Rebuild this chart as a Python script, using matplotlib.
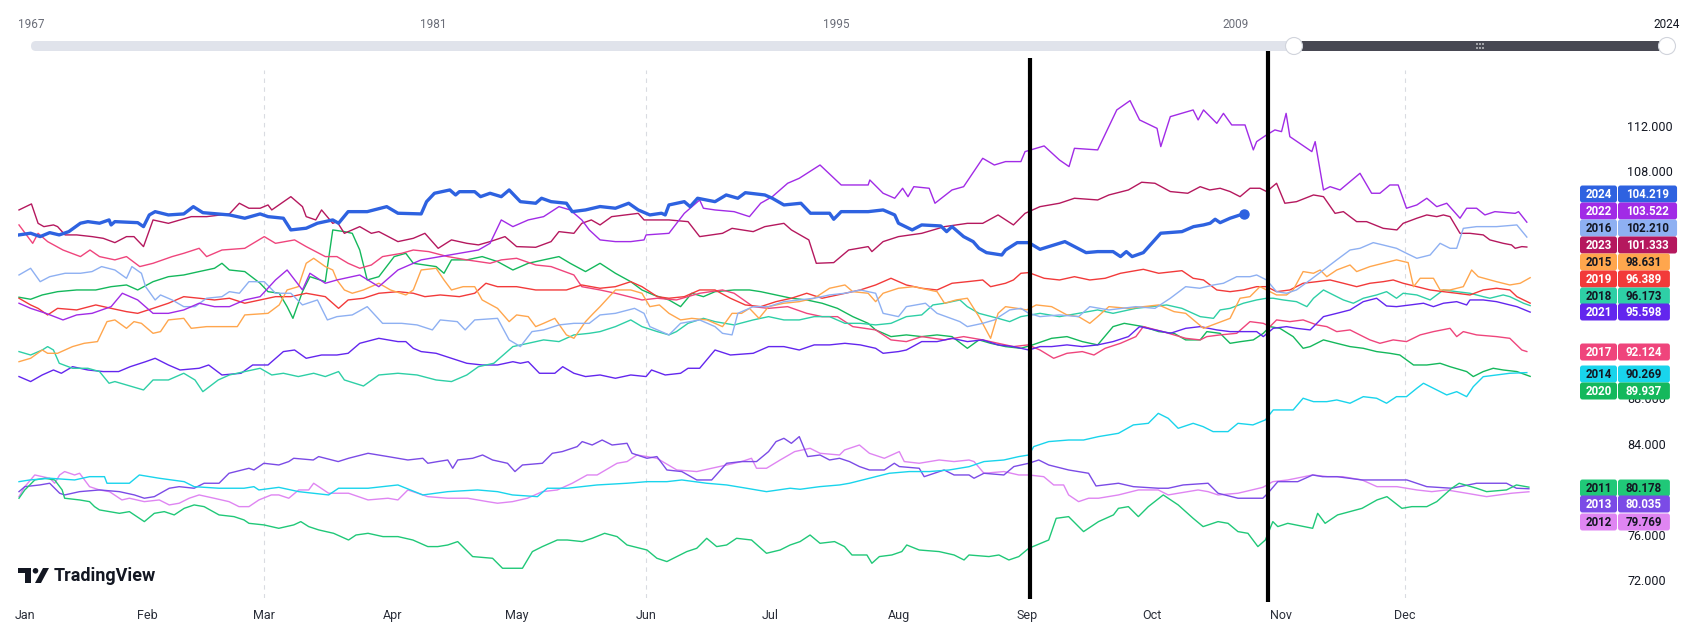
import matplotlib
matplotlib.use("Agg")
import matplotlib.pyplot as plt
from matplotlib.patches import FancyBboxPatch, Circle, Polygon, Rectangle

plt.rcParams['font.family'] = ['Roboto', 'DejaVu Sans']

# ---------------- data: (day of year, index value) ----------------
s2024 = [(0.0,102.40),(2.8,102.55),(5.1,102.25),(7.4,102.60),(9.7,102.40),(12.0,102.69),(14.8,103.43),(16.6,103.57),(19.4,103.43),(21.7,103.72),(22.2,103.28),(23.1,103.57),(28.6,103.48),(30.0,103.13),(31.4,104.16),(32.8,104.45),(36.0,104.16),(39.7,104.25),(42.0,104.89),(44.3,104.36),(50.7,104.16),(54.4,103.87),(58.1,104.25),(60.0,104.01),(63.7,103.87),(65.5,102.84),(69.2,102.99),(71.9,103.43),(75.6,103.72),(77.0,103.43),(79.3,104.45),(83.9,104.45),(88.6,104.89),(91.3,104.31),(96.9,104.25),(98.2,105.33),(100.1,106.07),(103.8,106.36),(105.2,105.92),(106.1,106.21),(109.8,106.21),(111.2,105.77),(113.5,106.07),(116.2,105.77),(118.1,106.36),(120.8,105.33),(124.5,105.19),(125.9,105.63),(128.2,105.33),(131.9,105.19),(133.3,104.45),(136.5,104.60),(140.0,104.90),(143.7,104.75),(146.9,105.19),(149.2,104.60),(152.0,104.16),(154.8,104.31),(155.7,104.16),(156.6,105.04),(160.3,105.33),(161.7,104.89),(163.5,105.63),(167.7,105.33),(170.4,105.92),(173.2,105.63),(175.0,106.12),(179.7,105.92),(181.5,105.63),(184.3,105.04),(188.4,105.19),(190.7,104.31),(195.3,104.31),(196.3,103.78),(198.1,104.45),(204.6,104.45),(208.2,104.60),(211.0,104.16),(211.9,103.43),(215.2,102.84),(217.5,103.28),(222.1,103.19),(223.5,102.69),(224.8,103.13),(227.6,102.25),(229.9,101.81),(231.3,101.22),(233.1,100.84),(236.8,100.63),(237.7,101.07),(240.5,101.72),(243.3,101.72),(246.0,101.13),(252.0,101.81),(257.1,100.84),(259.9,100.93),(263.6,100.93),(265.4,100.49),(266.8,100.93),(268.2,100.49),(270.9,100.84),(275.1,102.55),(280.2,102.69),(283.0,103.13),(285.4,103.28),(287.0,103.43),(288.2,103.78),(289.4,103.48),(291.8,103.87),(294.2,104.16),(295.2,104.219)]

s2022 = [(0.0,96.38),(2.8,95.93),(6.5,95.49),(10.6,94.91),(13.9,95.35),(17.6,95.49),(22.2,96.08),(24.9,97.26),(28.6,96.67),(32.3,95.49),(36.0,95.49),(39.7,95.79),(43.4,96.38),(47.1,96.08),(50.7,96.08),(54.4,96.67),(58.1,96.96),(61.8,98.43),(64.6,99.31),(68.3,97.55),(70.1,99.02),(73.8,98.14),(76.6,98.43),(82.1,98.87),(86.7,97.84),(91.3,99.31),(96.9,100.20),(101.5,100.49),(106.1,100.78),(110.7,101.07),(113.5,101.66),(116.2,103.72),(119.0,103.13),(122.7,103.72),(126.4,104.01),(130.1,104.89),(132.8,104.60),(135.6,103.72),(137.4,102.84),(140.0,101.96),(143.7,101.81),(147.4,101.81),(150.6,101.96),(151.1,102.40),(156.6,102.54),(160.3,104.30),(164.0,105.48),(164.9,104.75),(167.7,104.60),(172.3,104.45),(176.0,104.01),(178.7,105.19),(181.5,105.77),(185.2,106.95),(188.0,107.39),(193.0,108.56),(198.1,106.80),(204.6,106.80),(205.0,107.24),(208.2,106.07),(211.0,105.63),(212.9,106.51),(214.2,105.77),(215.6,106.65),(219.3,106.51),(220.7,105.19),(224.8,106.36),(227.6,106.65),(232.2,109.15),(235.0,108.56),(237.7,108.86),(241.4,108.86),(242.4,109.74),(247.0,110.24),(250.7,109.00),(253.0,108.42),(254.3,110.03),(259.9,109.89),(264.5,113.41),(267.7,114.23),(270.0,112.53),(274.2,111.79),(275.1,110.18),(277.4,112.82),(282.9,113.41),(284.1,112.53),(285.4,113.41),(288.6,112.23),(290.2,113.11),(292.2,112.09),(295.4,112.09),(297.4,109.89),(298.2,110.62),(300.6,111.21),(302.6,111.65),(304.2,111.50),(305.3,113.11),(306.2,111.06),(311.5,109.74),(312.3,110.62),(314.3,106.36),(315.9,106.65),(318.3,106.36),(323.1,107.83),(325.9,106.07),(327.9,106.07),(330.3,106.80),(332.3,106.80),(334.3,104.75),(336.8,105.04),(339.2,105.63),(341.6,104.89),(344.0,105.19),(347.2,103.87),(348.8,104.75),(351.2,104.75),(353.2,104.16),(355.6,104.45),(360.5,104.30),(361.3,104.45),(363.3,103.522)]

s2016 = [(0.0,98.87),(2.8,99.46),(5.1,98.28),(7.4,98.72),(11.1,99.02),(14.8,99.02),(17.6,99.17),(19.9,99.61),(23.1,99.31),(25.9,98.58),(27.2,99.61),(29.5,99.02),(30.5,97.84),(32.8,96.67),(34.1,97.11),(36.9,96.67),(39.7,96.08),(42.4,96.08),(45.2,96.82),(48.9,96.96),(50.7,97.40),(53.1,97.26),(55.4,98.28),(59.1,98.28),(61.8,97.26),(65.5,97.26),(68.3,96.23),(71.9,96.67),(74.3,94.91),(76.6,95.20),(80.3,95.35),(83.9,96.08),(87.6,94.61),(92.2,94.61),(95.9,94.47),(99.6,94.03),(101.5,94.91),(105.6,94.76),(107.5,94.03),(109.8,94.91),(115.3,95.05),(118.1,93.15),(120.8,92.56),(123.6,93.88),(126.4,94.03),(130.1,94.47),(133.7,94.61),(137.4,94.61),(140.0,95.35),(143.7,95.49),(148.3,95.93),(150.6,95.49),(152.0,94.32),(156.6,93.59),(159.4,94.61),(164.0,94.91),(167.7,94.32),(169.5,93.73),(171.8,93.59),(173.2,95.49),(176.9,96.08),(180.6,96.08),(184.3,96.52),(188.0,96.67),(191.6,96.82),(195.3,97.11),(199.0,97.26),(202.7,97.55),(206.4,97.26),(208.2,95.49),(211.9,95.20),(213.8,96.08),(218.4,96.38),(221.2,95.49),(226.7,94.76),(228.5,94.32),(232.2,94.61),(235.0,94.91),(238.7,95.79),(241.4,95.93),(243.3,95.49),(246.0,95.20),(250.7,95.35),(255.3,95.20),(258.0,96.08),(262.6,95.79),(269.1,96.08),(273.7,95.93),(277.4,96.82),(281.1,97.84),(284.5,97.70),(287.8,97.99),(290.2,98.14),(293.4,98.72),(296.6,98.72),(298.2,98.87),(300.6,98.43),(303.0,97.40),(305.4,97.26),(307.8,97.55),(311.1,98.43),(314.3,99.31),(317.5,100.20),(320.7,101.07),(323.1,101.22),(326.3,101.72),(328.7,101.51),(331.9,101.22),(334.3,100.78),(336.8,100.34),(340.0,100.63),(342.4,101.66),(344.8,101.22),(346.4,101.22),(348.0,102.98),(351.2,103.13),(356.0,103.13),(360.9,103.28),(363.3,102.210)]

s2023 = [(0.0,104.60),(3.0,105.13),(4.6,103.42),(6.0,103.13),(8.3,103.28),(9.3,103.13),(11.1,102.40),(13.9,102.40),(17.6,102.25),(20.3,102.10),(23.1,101.72),(25.9,102.25),(27.7,102.25),(30.0,101.37),(32.3,103.72),(36.0,103.42),(38.8,103.72),(41.5,104.01),(45.2,104.01),(50.7,104.25),(53.1,105.19),(55.4,104.75),(58.1,104.75),(60.0,105.04),(60.9,104.60),(65.5,105.77),(68.3,104.89),(69.2,104.01),(71.5,103.72),(72.9,104.60),(75.6,103.42),(76.6,103.57),(78.4,102.54),(82.1,103.13),(84.9,102.54),(86.7,102.69),(91.3,101.81),(95.0,102.10),(97.8,102.54),(101.0,101.22),(104.2,101.96),(107.9,101.66),(110.7,101.52),(113.5,101.81),(117.1,102.25),(119.9,101.37),(124.5,101.31),(128.2,101.81),(130.1,102.69),(133.7,102.54),(135.6,103.42),(137.9,103.72),(140.0,103.28),(142.8,104.01),(149.2,104.30),(150.6,103.72),(156.6,103.72),(161.2,103.57),(164.0,102.25),(169.5,102.54),(171.8,102.98),(176.9,102.69),(179.7,103.13),(184.3,103.42),(186.1,102.84),(190.3,101.96),(192.1,99.90),(196.3,99.96),(199.9,101.07),(204.6,101.37),(205.5,100.93),(208.2,101.81),(211.9,102.25),(217.5,102.54),(223.0,103.13),(228.5,103.42),(232.2,103.42),(235.9,104.16),(239.6,103.28),(242.4,104.30),(246.0,104.89),(250.7,105.19),(254.3,105.63),(259.9,105.48),(262.6,105.92),(267.3,106.36),(270.5,107.04),(273.7,106.95),(277.4,106.22),(281.6,106.07),(284.6,106.65),(286.9,106.36),(289.4,106.51),(291.8,106.22),(294.2,105.77),(296.6,106.51),(299.0,106.51),(300.6,106.22),(303.0,106.95),(305.0,105.19),(307.8,105.33),(311.9,105.92),(314.3,105.77),(317.1,104.30),(319.1,104.45),(322.3,103.57),(324.7,103.57),(328.7,102.98),(332.0,102.84),(333.5,103.42),(336.8,103.87),(339.2,104.16),(341.6,104.01),(343.2,104.16),(344.8,104.01),(347.2,102.54),(349.6,102.54),(352.8,102.40),(354.4,101.96),(356.0,101.81),(357.6,101.66),(359.6,101.52),(360.5,101.22),(362.1,101.37),(363.3,101.333)]

s2015 = [(0.0,91.23),(2.8,91.53),(5.6,92.26),(6.9,91.97),(9.3,91.97),(12.9,92.56),(15.7,92.85),(18.9,93.00),(21.2,94.76),(23.1,94.91),(25.9,94.17),(27.7,94.76),(29.5,94.61),(32.3,93.73),(34.1,93.88),(36.0,94.91),(39.7,95.05),(41.5,94.17),(45.2,94.32),(48.9,94.32),(52.6,94.32),(54.4,95.35),(60.0,95.49),(62.7,96.23),(64.6,97.55),(67.3,97.84),(69.2,99.90),(71.0,100.34),(73.8,99.61),(75.6,99.31),(76.6,98.43),(78.4,97.55),(80.3,97.26),(83.0,97.55),(86.7,98.14),(89.5,97.55),(93.2,97.11),(95.0,97.55),(96.9,99.31),(100.5,99.46),(102.4,98.43),(104.2,97.55),(107.0,97.84),(109.8,97.84),(111.6,96.67),(115.3,95.93),(118.1,94.76),(119.9,95.35),(122.7,95.20),(124.5,94.32),(126.4,94.61),(129.1,95.05),(131.9,93.59),(133.7,93.29),(136.5,94.76),(138.4,95.49),(140.0,96.08),(143.7,97.55),(147.4,97.55),(150.1,97.26),(152.0,96.08),(154.3,96.23),(156.6,95.49),(159.4,94.91),(162.1,95.05),(165.8,94.91),(169.5,94.32),(171.8,95.49),(174.1,95.49),(176.0,95.93),(178.3,95.05),(180.6,96.08),(184.3,96.38),(188.0,96.52),(191.6,96.82),(195.3,97.70),(199.0,97.99),(200.9,97.40),(204.6,97.26),(206.4,96.52),(208.2,97.26),(211.9,97.70),(215.6,97.84),(219.3,97.55),(221.2,97.40),(223.0,96.38),(225.8,96.67),(228.5,96.82),(231.3,95.20),(234.1,93.29),(235.9,95.49),(237.7,96.08),(240.5,95.93),(242.8,95.79),(245.1,96.23),(248.8,96.08),(252.5,95.35),(255.3,95.20),(258.0,94.61),(259.9,95.20),(262.6,96.08),(267.3,95.93),(270.9,96.08),(274.6,96.23),(278.3,95.64),(281.1,95.49),(285.4,94.17),(288.6,94.61),(291.8,95.05),(294.2,96.82),(296.6,96.96),(299.0,97.84),(300.6,97.55),(303.0,97.11),(305.4,97.11),(307.0,97.55),(309.4,99.17),(311.9,99.02),(313.5,99.31),(315.1,98.72),(317.5,99.31),(320.7,99.75),(322.3,99.17),(325.5,99.61),(328.7,99.90),(331.9,100.20),(334.7,99.96),(336.0,97.84),(337.6,98.58),(340.8,98.58),(342.4,97.55),(344.8,97.55),(348.0,97.84),(350.0,99.31),(351.6,98.72),(356.0,98.28),(359.2,97.99),(361.7,98.14),(364.1,98.631)]

s2019 = [(0.0,96.82),(2.8,96.23),(4.6,95.93),(6.9,95.35),(9.3,95.93),(13.9,95.79),(18.5,96.23),(22.2,95.93),(25.9,95.64),(28.6,95.49),(32.3,95.93),(36.0,96.38),(39.7,96.96),(43.4,96.82),(47.1,96.67),(50.7,96.82),(54.4,96.38),(58.1,96.67),(61.8,96.96),(65.5,96.96),(69.2,97.26),(73.8,96.96),(77.0,95.93),(79.3,96.67),(83.0,96.82),(86.7,97.26),(91.3,97.40),(95.0,97.26),(97.8,96.96),(101.5,97.11),(106.1,96.96),(109.8,97.26),(112.5,98.14),(115.3,97.84),(119.9,97.84),(124.5,97.55),(128.2,97.55),(131.9,97.55),(135.6,97.99),(140.0,97.70),(143.7,97.84),(147.4,98.28),(150.1,97.84),(153.8,96.96),(156.6,96.82),(160.3,96.96),(164.0,97.55),(167.7,97.55),(171.4,96.82),(175.0,96.23),(178.7,96.08),(182.4,96.52),(186.1,96.82),(189.8,97.26),(193.5,96.82),(197.2,97.11),(202.7,97.55),(206.4,97.99),(210.1,98.58),(213.8,97.99),(217.5,97.70),(221.2,97.55),(224.8,98.14),(228.5,98.28),(232.2,98.43),(234.1,97.84),(237.7,98.14),(239.6,98.43),(241.4,99.02),(243.3,99.08),(247.0,98.58),(250.7,98.43),(254.3,98.72),(258.0,98.43),(261.7,98.58),(265.4,99.02),(270.9,99.37),(274.6,99.02),(280.2,99.25),(282.9,98.58),(285.4,98.43),(288.6,97.55),(291.8,97.40),(295.0,97.55),(298.2,97.84),(300.6,97.84),(303.0,97.40),(306.2,97.55),(309.4,98.14),(312.7,98.28),(315.9,98.43),(319.1,98.14),(322.3,97.84),(325.5,98.14),(328.7,98.28),(331.1,98.43),(333.5,98.14),(336.8,97.84),(340.0,97.55),(343.2,97.40),(346.4,97.26),(349.6,97.11),(352.8,97.55),(356.0,97.70),(359.2,97.55),(360.9,96.96),(364.1,96.389)]

s2018 = [(0.0,92.12),(2.8,91.82),(5.6,92.26),(6.9,92.56),(8.3,92.26),(9.7,91.09),(12.9,90.65),(16.6,90.65),(19.4,90.36),(21.7,89.33),(23.1,89.48),(25.9,89.18),(30.0,88.74),(32.3,89.62),(36.0,89.62),(39.7,90.21),(42.4,89.62),(44.3,88.59),(48.0,89.62),(50.7,90.06),(54.4,90.36),(58.1,90.65),(60.9,90.06),(63.7,90.21),(67.3,89.92),(71.0,90.21),(73.8,89.92),(77.0,90.36),(78.4,89.62),(83.0,89.09),(86.7,90.06),(91.3,90.21),(95.9,90.06),(100.5,89.62),(104.2,89.48),(107.9,90.06),(110.7,90.79),(114.4,91.09),(119.0,92.56),(122.7,92.85),(126.4,93.15),(130.1,93.00),(133.7,93.59),(137.4,93.73),(140.0,93.88),(143.7,94.32),(147.4,94.91),(150.1,94.32),(153.8,93.88),(156.6,93.59),(158.4,93.88),(161.2,94.61),(164.9,95.05),(167.7,94.76),(172.3,94.47),(176.9,94.91),(180.6,95.20),(184.3,94.91),(188.0,94.91),(191.6,95.20),(195.3,95.20),(199.0,94.61),(202.7,94.61),(206.4,94.47),(210.1,94.61),(213.8,95.20),(217.5,95.35),(220.2,96.23),(223.0,96.38),(226.7,96.67),(228.5,96.08),(231.3,95.49),(235.9,95.05),(238.7,94.76),(241.4,95.20),(246.0,95.49),(250.7,95.20),(255.3,95.49),(259.9,95.79),(263.6,95.49),(269.1,95.93),(272.8,96.08),(276.5,96.23),(280.2,95.93),(284.6,95.20),(287.8,95.05),(289.4,95.79),(291.8,95.93),(295.0,96.38),(298.2,96.67),(300.6,96.82),(302.2,96.82),(304.6,96.67),(307.8,96.52),(310.3,96.08),(311.9,96.82),(314.3,97.55),(316.7,97.11),(319.1,96.67),(321.5,96.38),(323.9,96.82),(327.1,97.11),(329.5,97.40),(331.9,96.82),(333.5,97.26),(336.8,97.11),(340.0,96.67),(343.2,97.55),(346.4,97.40),(349.6,97.26),(352.8,96.96),(354.4,96.82),(357.6,97.11),(359.2,96.96),(362.5,96.38),(364.1,96.173)]

s2021 = [(0.0,89.92),(2.8,89.48),(5.6,90.06),(8.3,90.50),(10.2,90.21),(12.9,90.79),(16.6,90.50),(20.3,90.36),(24.0,90.36),(26.8,90.79),(30.5,91.23),(32.8,91.53),(36.0,90.94),(38.8,90.50),(43.4,90.65),(45.7,90.94),(48.9,90.06),(53.5,90.21),(56.3,90.94),(60.0,90.94),(63.7,92.12),(66.4,92.26),(69.2,91.53),(72.9,91.82),(76.6,91.82),(79.3,91.97),(82.1,92.85),(86.7,93.29),(91.3,93.00),(93.2,93.00),(95.0,92.41),(96.9,92.12),(100.5,91.97),(104.2,91.53),(107.9,91.09),(111.6,90.94),(115.3,90.94),(119.0,91.23),(120.8,91.09),(122.7,91.23),(125.4,90.21),(129.1,90.21),(131.0,90.79),(133.7,90.21),(136.5,89.92),(140.0,90.06),(143.7,89.77),(147.4,90.06),(151.1,89.92),(152.4,90.50),(155.7,90.06),(159.4,90.21),(161.2,90.65),(164.0,90.65),(167.7,92.26),(171.4,91.82),(176.9,91.97),(180.6,92.56),(184.3,92.56),(188.0,92.26),(191.6,92.71),(195.3,92.71),(199.0,92.85),(202.7,92.71),(206.4,92.41),(208.2,91.97),(211.9,92.12),(213.8,92.26),(217.5,93.00),(221.2,93.00),(224.8,93.29),(228.5,93.00),(232.2,93.15),(235.9,92.71),(239.6,92.56),(243.3,92.26),(246.0,92.56),(248.8,92.56),(252.5,92.71),(256.2,92.56),(259.9,92.71),(263.6,93.00),(267.3,93.44),(270.0,94.32),(273.7,94.03),(277.4,93.73),(281.1,94.17),(284.6,94.32),(288.6,94.03),(291.8,93.88),(294.2,93.88),(298.2,93.88),(299.8,93.44),(302.2,94.17),(305.4,94.32),(307.8,94.17),(311.1,94.03),(312.7,94.61),(314.3,95.20),(317.5,95.49),(320.7,95.79),(323.9,96.52),(327.1,96.82),(329.5,96.14),(331.9,96.08),(335.2,96.23),(338.4,96.38),(340.8,96.08),(343.2,96.38),(346.4,96.52),(348.8,96.23),(349.6,96.67),(352.8,96.67),(356.0,96.52),(359.2,96.23),(360.9,96.08),(364.1,95.598)]

s2017 = [(0.0,103.28),(3.3,101.66),(4.6,102.54),(6.9,101.81),(10.6,101.07),(14.8,100.49),(17.1,101.07),(19.4,100.49),(23.1,100.20),(25.9,100.49),(29.1,99.61),(32.3,99.90),(36.9,100.49),(39.7,100.78),(43.4,101.22),(45.2,100.49),(48.9,101.07),(54.4,101.22),(59.1,102.25),(61.8,101.66),(66.4,101.96),(69.2,101.37),(73.8,100.49),(76.6,100.49),(79.3,99.90),(82.1,99.46),(84.9,99.75),(87.6,100.49),(92.2,100.78),(95.0,101.07),(98.7,100.93),(103.3,100.49),(107.9,100.20),(113.5,99.90),(116.2,100.20),(119.9,100.34),(124.5,99.75),(128.2,99.61),(133.7,98.87),(135.6,97.84),(140.0,97.55),(143.7,97.26),(150.1,96.67),(153.8,96.82),(158.4,96.67),(164.0,97.26),(169.5,97.55),(172.3,97.26),(176.9,96.08),(180.6,95.93),(185.2,96.08),(189.8,95.49),(193.5,95.20),(197.2,95.20),(200.9,94.32),(206.4,94.03),(210.1,93.15),(213.8,93.00),(217.5,93.44),(223.0,93.15),(227.6,93.44),(232.2,93.15),(235.9,92.85),(239.6,92.56),(243.1,92.71),(246.0,92.26),(249.3,91.53),(252.5,91.97),(256.2,92.12),(259.0,91.82),(261.7,92.41),(265.4,92.85),(269.1,93.44),(270.9,94.32),(275.6,93.88),(281.1,93.29),(284.6,93.15),(286.2,93.44),(289.4,93.59),(293.4,93.73),(296.6,94.76),(299.8,94.61),(301.4,94.32),(303.0,94.91),(306.2,94.76),(309.4,94.91),(312.7,94.47),(315.1,94.32),(317.5,93.88),(320.7,94.03),(323.9,93.44),(325.5,93.15),(327.9,92.85),(331.1,93.15),(334.3,93.00),(337.6,93.59),(340.8,93.88),(344.8,94.17),(346.4,93.44),(348.0,93.88),(351.2,93.59),(356.0,93.44),(359.2,93.29),(362.1,92.26),(363.3,92.124)]

s2014 = [(0.0,80.66),(2.6,80.81),(7.4,80.96),(13.4,80.81),(17.0,81.10),(20.6,81.10),(21.2,80.52),(26.6,80.52),(29.0,81.25),(33.8,80.96),(39.8,80.66),(42.2,80.22),(48.2,80.08),(54.2,80.08),(56.6,80.22),(57.8,79.93),(62.6,80.16),(67.4,79.78),(74.6,79.49),(77.0,80.08),(84.1,80.08),(91.3,80.37),(97.3,79.49),(103.3,79.78),(110.5,79.93),(115.3,79.78),(118.9,79.49),(124.9,79.34),(127.3,80.08),(132.1,80.08),(139.3,80.37),(146.5,80.52),(151.3,80.66),(156.1,80.66),(159.7,80.81),(165.7,80.52),(170.5,80.37),(175.3,80.08),(180.1,79.78),(185.8,80.08),(188.2,79.99),(192.9,80.22),(197.7,80.37),(200.1,80.52),(204.9,80.96),(209.7,81.40),(214.5,81.55),(219.3,81.55),(224.1,81.69),(228.9,81.98),(232.5,82.43),(237.3,82.57),(240.9,82.87),(243.3,83.01),(244.5,83.75),(248.1,84.19),(252.9,84.33),(256.5,84.33),(260.1,84.63),(264.9,84.92),(268.5,85.66),(272.1,85.80),(274.5,86.68),(276.9,86.24),(279.3,85.36),(282.9,85.80),(285.3,85.51),(287.7,85.07),(291.3,85.07),(293.7,85.80),(297.3,85.66),(300.3,86.10),(302.2,86.98),(307.0,86.98),(309.4,88.01),(311.9,87.71),(315.1,87.71),(317.5,87.86),(320.7,87.57),(323.9,88.15),(327.1,88.01),(329.5,87.57),(331.9,88.15),(334.3,88.15),(336.8,88.89),(338.4,89.33),(341.6,88.74),(344.0,88.30),(346.4,88.59),(348.8,88.15),(350.4,89.03),(352.8,89.91),(356.0,90.06),(359.2,90.21),(363.3,90.269)]

s2020 = [(0.0,96.91),(2.8,96.73),(5.6,97.11),(9.3,97.40),(13.9,97.55),(18.5,97.55),(22.2,97.84),(25.9,97.99),(28.6,97.55),(32.3,98.28),(36.0,98.72),(39.7,98.87),(43.4,99.17),(47.1,99.46),(48.9,99.90),(50.7,99.31),(54.4,99.17),(58.1,98.14),(60.0,97.40),(62.7,97.26),(64.6,96.08),(66.0,95.05),(68.3,97.40),(70.1,98.72),(73.8,98.28),(75.6,102.84),(78.4,102.69),(80.3,102.54),(82.1,101.07),(83.9,98.43),(86.7,98.72),(90.4,100.49),(93.2,100.78),(95.0,99.90),(97.8,99.75),(100.5,99.61),(102.4,99.02),(104.2,100.20),(107.9,100.20),(111.6,100.49),(115.3,100.05),(119.0,99.31),(122.7,99.90),(126.4,100.20),(130.1,100.49),(132.8,99.90),(136.5,99.17),(140.0,99.90),(143.7,99.02),(147.4,98.28),(150.1,97.55),(152.9,97.11),(156.6,96.67),(159.4,96.08),(162.1,97.26),(164.9,96.96),(167.7,97.40),(172.3,97.55),(176.0,97.55),(178.7,97.40),(182.4,97.11),(186.1,96.82),(189.8,96.67),(193.5,96.38),(197.2,95.93),(200.9,95.20),(204.6,94.61),(206.4,94.03),(210.1,93.44),(213.8,93.59),(217.5,93.44),(221.2,93.59),(224.8,93.44),(228.5,92.41),(231.3,93.15),(234.1,92.85),(237.7,92.56),(241.4,92.41),(244.2,92.71),(248.8,93.29),(252.5,93.44),(256.2,93.00),(259.9,92.71),(263.6,94.32),(266.3,94.61),(270.9,94.32),(274.6,93.88),(278.3,93.73),(281.1,93.15),(284.6,93.15),(286.2,93.88),(289.4,93.73),(291.8,92.85),(294.2,92.99),(297.4,93.15),(299.8,93.73),(301.4,94.32),(303.8,94.17),(307.0,93.44),(309.4,92.41),(311.1,92.56),(314.3,93.15),(317.5,92.85),(320.7,92.56),(323.9,92.41),(327.1,92.12),(330.3,91.97),(332.7,91.82),(336.0,90.94),(339.2,90.94),(342.4,91.09),(344.8,90.79),(348.8,90.36),(350.4,89.92),(352.8,90.36),(355.2,90.65),(357.6,90.50),(360.9,90.36),(364.1,89.937)]

s2011 = [(0.0,79.20),(1.4,79.93),(3.8,80.81),(6.2,80.96),(8.6,80.81),(10.4,79.93),(11.0,79.20),(14.6,79.05),(17.0,78.90),(18.2,78.46),(19.4,78.17),(24.2,77.87),(26.6,78.02),(29.0,77.43),(30.2,77.14),(32.6,77.87),(35.0,78.02),(37.4,77.73),(39.8,78.31),(42.2,78.61),(44.6,78.46),(48.2,77.73),(51.8,77.58),(54.2,77.29),(55.4,76.99),(59.0,76.85),(62.6,76.55),(66.2,76.85),(67.9,77.14),(69.8,76.70),(72.2,76.41),(75.8,76.11),(79.4,75.52),(81.2,75.96),(84.1,76.11),(87.7,75.82),(91.3,75.82),(94.9,75.52),(98.5,74.94),(100.9,74.94),(103.3,75.08),(105.7,75.38),(109.3,74.06),(114.1,73.91),(116.5,73.03),(121.3,73.03),(123.7,74.50),(126.1,74.94),(129.7,75.52),(132.1,75.52),(135.7,75.38),(138.1,75.67),(141.1,76.11),(144.1,75.82),(146.5,75.08),(151.3,74.64),(153.7,73.91),(156.1,73.62),(158.5,74.06),(160.9,74.50),(163.3,74.79),(165.7,75.67),(168.1,74.94),(170.5,75.08),(172.9,75.67),(176.5,75.52),(180.1,74.35),(183.4,74.64),(185.8,75.08),(188.2,75.38),(190.6,75.96),(193.0,75.23),(196.5,75.38),(198.9,74.94),(200.7,74.20),(204.3,74.20),(205.5,73.47),(207.3,74.06),(210.3,74.20),(212.7,74.50),(213.9,75.08),(216.9,74.64),(221.7,74.50),(225.3,74.20),(227.7,73.76),(228.9,74.20),(233.7,74.06),(236.1,74.20),(238.5,73.76),(240.9,74.06),(243.3,74.79),(248.1,75.52),(249.9,77.43),(252.9,77.58),(256.5,76.26),(260.1,77.14),(263.7,77.73),(264.9,78.31),(267.3,78.46),(269.7,77.58),(272.1,78.46),(275.7,79.49),(279.3,78.61),(282.9,77.43),(285.3,76.70),(288.9,77.14),(291.3,76.99),(293.7,76.26),(296.1,76.11),(298.5,74.94),(300.3,75.52),(302.1,77.14),(303.3,76.70),(305.7,76.99),(311.7,76.55),(312.9,77.87),(314.7,76.99),(317.7,77.73),(323.6,78.31),(327.2,79.05),(329.6,79.34),(333.2,78.31),(335.6,78.46),(339.2,78.46),(341.6,78.90),(345.2,80.08),(347.0,80.52),(351.2,80.08),(353.6,79.78),(358.4,79.93),(360.8,80.37),(363.8,80.178)]

s2013 = [(0.0,79.78),(1.4,80.22),(5.0,80.37),(7.4,80.52),(9.8,79.64),(11.0,79.49),(14.6,79.78),(19.4,79.93),(24.2,79.78),(27.8,79.49),(30.2,79.20),(32.6,79.34),(36.2,80.08),(38.6,80.22),(42.2,80.08),(44.6,80.52),(48.2,80.52),(50.6,81.40),(55.4,81.84),(56.6,81.69),(59.0,82.28),(62.6,82.13),(65.0,82.43),(66.2,82.72),(70.9,82.57),(72.2,82.87),(76.9,82.43),(79.4,82.72),(84.1,83.16),(88.9,82.87),(91.3,82.72),(93.7,82.57),(97.3,82.72),(98.5,82.28),(100.9,82.43),(103.3,82.57),(104.5,81.84),(105.7,82.57),(109.3,82.72),(111.7,83.01),(114.1,82.57),(117.7,82.28),(119.5,81.55),(121.3,82.13),(126.1,82.28),(128.5,83.16),(130.9,83.31),(134.5,83.75),(135.7,84.19),(138.1,83.89),(140.5,84.33),(142.9,83.89),(146.5,84.04),(147.7,83.16),(151.3,82.72),(153.7,82.87),(156.1,81.69),(159.7,81.55),(163.3,80.81),(166.9,80.81),(170.5,82.28),(174.1,82.43),(177.7,82.43),(180.6,83.31),(182.4,84.19),(184.3,84.48),(186.1,84.04),(188.0,84.63),(190.0,82.87),(193.0,83.01),(195.3,82.57),(197.7,82.72),(200.1,82.43),(202.5,81.99),(204.9,81.69),(208.5,81.69),(210.9,82.28),(212.1,81.99),(216.9,81.84),(218.1,81.10),(222.9,81.69),(225.3,81.25),(228.9,81.25),(230.1,80.96),(232.5,81.40),(237.3,81.25),(239.7,81.99),(243.3,82.28),(245.7,82.57),(248.1,82.13),(252.9,81.69),(257.7,81.40),(259.5,80.28),(264.9,80.52),(268.5,80.22),(274.5,80.08),(276.9,80.08),(280.5,80.37),(286.5,80.52),(288.9,79.64),(293.7,79.20),(299.7,79.20),(300.9,79.64),(303.3,80.66),(308.1,80.66),(311.7,81.25),(314.1,81.10),(317.6,81.10),(323.6,80.81),(327.2,80.81),(334.4,80.81),(339.2,80.22),(345.2,80.08),(351.2,80.52),(358.4,80.52),(360.8,80.08),(363.8,80.035)]

s2012 = [(0.0,79.34),(1.4,80.22),(3.8,81.25),(7.4,80.96),(8.6,80.52),(9.8,81.25),(11.0,81.55),(13.4,81.25),(14.6,81.40),(17.0,80.22),(19.4,79.93),(21.8,79.78),(24.8,79.05),(26.6,79.20),(30.2,78.90),(33.8,79.05),(36.2,78.61),(38.6,78.76),(41.0,79.20),(43.4,79.49),(47.0,79.20),(50.6,78.90),(53.0,78.46),(55.4,78.46),(57.8,79.05),(60.8,79.49),(62.6,79.49),(65.0,79.20),(67.4,79.93),(69.8,79.93),(71.0,80.52),(74.6,79.64),(79.4,79.64),(84.1,79.05),(88.9,79.20),(91.3,79.05),(93.7,79.93),(96.1,79.64),(98.5,79.34),(103.3,79.20),(108.1,79.20),(112.9,78.90),(115.3,78.76),(118.9,78.90),(122.5,79.20),(126.1,79.78),(129.7,79.93),(133.3,80.52),(136.9,81.25),(139.3,81.25),(144.1,82.28),(146.5,82.43),(148.9,83.01),(151.3,82.87),(153.7,82.72),(158.5,81.69),(163.3,81.55),(166.9,81.84),(170.5,82.13),(174.1,82.43),(176.5,82.72),(177.7,81.84),(180.1,81.84),(183.4,82.57),(186.9,83.31),(190.6,83.60),(193.0,83.16),(197.7,83.01),(198.9,83.45),(202.5,83.89),(204.9,83.16),(208.5,82.72),(212.1,83.31),(213.3,82.43),(216.9,82.28),(221.7,82.57),(225.3,82.43),(228.9,82.57),(230.1,82.43),(232.5,81.40),(237.3,81.55),(240.9,81.25),(243.3,81.25),(246.9,81.10),(249.3,80.37),(251.7,80.37),(252.9,79.49),(255.3,78.90),(257.7,79.20),(260.1,79.20),(264.9,79.49),(269.7,79.93),(274.5,79.93),(276.9,79.49),(279.3,79.64),(284.1,79.93),(286.5,79.78),(288.9,79.49),(293.7,79.64),(299.7,80.16),(302.1,80.66),(305.7,80.81),(311.7,81.25),(315.3,81.10),(318.9,81.10),(323.6,80.81),(327.2,80.22),(332.0,80.22),(336.8,79.93),(340.4,79.78),(344.0,79.93),(348.8,79.64),(353.6,79.34),(359.6,79.64),(363.8,79.769)]

month_labels = ["Jan", "Feb", "Mar", "Apr", "May", "Jun", "Jul", "Aug", "Sep", "Oct", "Nov", "Dec"]
month_days = [1.5, 31, 59, 90, 120, 151, 181, 212, 243, 273, 304, 334]
grid_days = [59, 151, 243, 334]
price_ticks = [72, 76, 80, 84, 88, 92, 96, 100, 104, 108, 112]
marked_days = [243.5, 301]
slider_years = ["1967", "1981", "1995", "2009", "2024"]

series = {
    "2024": s2024, "2022": s2022, "2016": s2016, "2023": s2023, "2015": s2015,
    "2019": s2019, "2018": s2018, "2021": s2021, "2017": s2017, "2014": s2014,
    "2020": s2020, "2011": s2011, "2013": s2013, "2012": s2012,
}

colors = {
    "2024": "#2E62E0", "2022": "#A12BE6", "2016": "#8EB0F2", "2023": "#B5185E",
    "2015": "#FFA64D", "2019": "#F23A3A", "2018": "#2ECFA6", "2021": "#6326EE",
    "2017": "#EF457C", "2014": "#19D4EC", "2020": "#14B85C", "2011": "#20C878",
    "2013": "#7B4BE6", "2012": "#DF85F2",
}
dark_text = {"2016", "2015", "2018", "2014", "2011", "2012"}

# ---------------- figure ----------------
W, H = 1702, 628
fig = plt.figure(figsize=(W / 100, H / 100), dpi=100)
fig.patch.set_facecolor("white")

left_px, right_px, top_px, bot_px = 18, 1548, 70, 598
ax = fig.add_axes([left_px / W, 1 - bot_px / H, (right_px - left_px) / W, (bot_px - top_px) / H])
ax.set_facecolor("white")
ax.set_xlim(-0.24, 368.4)
ax.set_ylim(70.41, 116.93)
for s in ax.spines.values():
    s.set_visible(False)

for gd in grid_days:
    ax.axvline(gd, color="#D9DBE1", lw=0.8, ls=(0, (4, 4)), zorder=0)

order = ["2012", "2013", "2011", "2020", "2014", "2017", "2021", "2018", "2019",
         "2015", "2023", "2016", "2022"]
for name in order:
    dx, vy = zip(*series[name])
    ax.plot(dx, vy, color=colors[name], lw=1.0, zorder=2, solid_joinstyle="round")
dx, vy = zip(*series["2024"])
ax.plot(dx, vy, color=colors["2024"], lw=2.4, zorder=3, solid_joinstyle="round")
ax.plot([dx[-1]], [vy[-1]], "o", color=colors["2024"], ms=6.5, zorder=3)

# user-drawn vertical markers
ax.plot([marked_days[0]] * 2, [70.33, 117.99], color="black", lw=3.0, clip_on=False,
        solid_capstyle="butt", zorder=6)
ax.plot([marked_days[1]] * 2, [70.06, 118.61], color="black", lw=3.0, clip_on=False,
        solid_capstyle="butt", zorder=6)

ax.set_xticks(month_days)
ax.set_xticklabels(month_labels)
ax.tick_params(axis="x", length=0, pad=8, labelsize=9, labelcolor="#2A2E39")

# right-hand value labels (slots in figure pixels, top-down order)
label_slots_px = [194, 211, 228, 245, 262, 279, 296, 312, 352, 374, 391, 488, 504, 522]


def value_to_px(v):
    return H - ax.transData.transform((0, v))[1]


tick_txt = []
for p in price_ticks:
    yp = value_to_px(p)
    hidden = any(abs(yp - sl) < 6 for sl in label_slots_px)
    tick_txt.append("" if hidden else f"{p:.3f}")
ax.yaxis.tick_right()
ax.set_yticks(price_ticks)
ax.set_yticklabels(tick_txt)
ax.tick_params(axis="y", length=0, pad=57, labelsize=9, labelcolor="#131722")

# ---------------- overlay (slider, labels, logo) ----------------
ov = fig.add_axes([0, 0, 1, 1], zorder=10)
ov.set_xlim(0, W)
ov.set_ylim(H, 0)
ov.axis("off")

ov.add_patch(FancyBboxPatch((31, 41), 1641, 10, boxstyle="round,pad=0,rounding_size=5",
                            fc="#E0E3EB", ec="none"))
ov.add_patch(Rectangle((1294, 41), 373, 10, fc="#474852", ec="none"))
for hx in (1294, 1667):
    ov.add_patch(Circle((hx, 46), 8.5, fc="white", ec="#D1D4DC", lw=0.8, zorder=3))
for gx in (1477, 1480, 1483):
    for gy in (44, 48):
        ov.add_patch(Circle((gx, gy), 0.8, fc="white", ec="none", zorder=3))
for yr, xp in zip(slider_years, [31, 433, 836, 1236, 1667]):
    ov.text(xp, 25, yr, ha="center", va="center", fontsize=8.5,
            color="#131722" if yr == "2024" else "#6A6D78")

ranked = sorted(series.keys(), key=lambda k: series[k][-1][1], reverse=True)
for name, slot in zip(ranked, label_slots_px):
    c = colors[name]
    tc = "#131722" if name in dark_text else "white"
    val_txt = f"{series[name][-1][1]:.3f}"
    wv = 9 + 7.15 * len(val_txt)
    ov.add_patch(FancyBboxPatch((1580, slot - 8.5), 37, 17,
                                boxstyle="round,pad=0,rounding_size=2.5", fc=c, ec="none"))
    ov.add_patch(FancyBboxPatch((1618, slot - 8.5), wv, 17,
                                boxstyle="round,pad=0,rounding_size=2.5", fc=c, ec="none"))
    ov.text(1598.5, slot + 0.5, name, ha="center", va="center", fontsize=8.3,
            fontweight="bold", color=tc)
    ov.text(1618 + wv / 2, slot + 0.5, val_txt, ha="center", va="center", fontsize=8.3,
            fontweight="bold", color=tc)

# TradingView logo
ov.add_patch(Rectangle((18, 568), 13, 5, fc="#131722", ec="none"))
ov.add_patch(Rectangle((25, 568), 6, 15, fc="#131722", ec="none"))
ov.add_patch(Circle((35.5, 570.8), 2.8, fc="#131722", ec="none"))
ov.add_patch(Polygon([[35, 583], [41, 583], [49, 568], [43, 568]], closed=True,
                     fc="#131722", ec="none"))
ov.text(54, 576, "TradingView", ha="left", va="center", fontsize=13, fontweight="bold",
        color="#131722")

fig.savefig("out.png", dpi=100, facecolor="white")
